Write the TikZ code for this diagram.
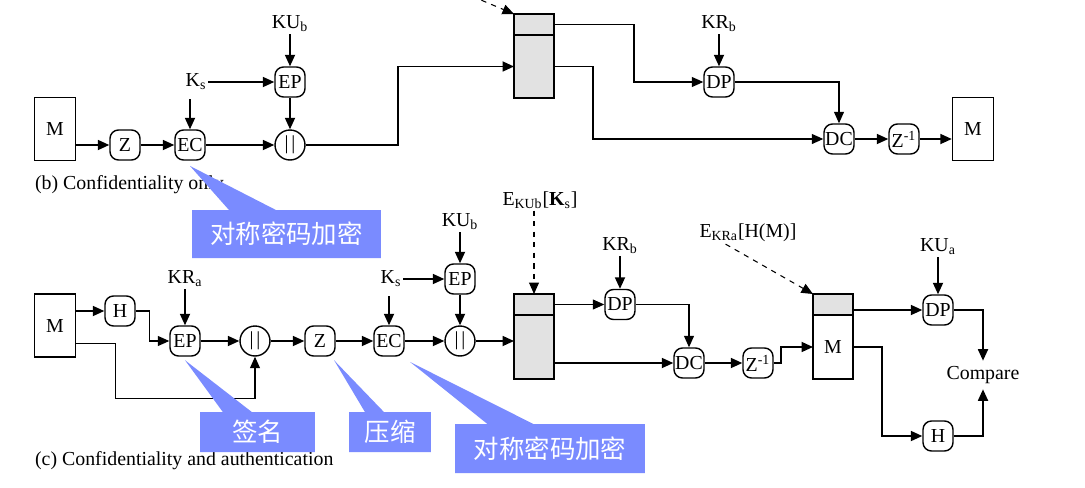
\documentclass[tikz,border=0pt]{standalone}
\usepackage{fontspec}
\setmainfont{Liberation Serif}
\newfontfamily\cjk{Noto Sans CJK SC}
\usetikzlibrary{positioning,arrows.meta,shapes.callouts}
\definecolor{callblue}{RGB}{122,139,255}
\definecolor{partgray}{RGB}{226,226,226}

\begin{document}
\begin{tikzpicture}[x=0.02cm, y=-0.02cm,
      font=\fontsize{11.3}{13}\selectfont,
      msg/.style={rectangle, draw, line width=0.8pt, minimum width=0.82cm,
                  minimum height=1.26cm, inner sep=0pt},
      op/.style={rectangle, draw, rounded corners=0.17cm, line width=0.8pt,
                 minimum size=0.6cm, inner sep=0pt},
      cat/.style={circle, draw, line width=0.8pt, minimum size=0.6cm, inner sep=0pt},
      part/.style={rectangle, draw, line width=0.8pt, fill=partgray,
                   minimum width=0.8cm, inner sep=0pt, outer sep=0pt},
      lbl/.style={inner sep=1pt},
      arr/.style={-{Triangle[length=0.23cm,width=0.2cm]}, line width=1pt},
      tarr/.style={arr, line width=0.6pt},
      dasharr/.style={arr, dashed, line width=0.6pt},
      note/.style={rectangle callout, fill=callblue, text=white,
                   font=\cjk\fontsize{14.5}{16}\selectfont, inner sep=0pt}]
    \useasboundingbox (0,0) rectangle (1085,487);

    % (b) confidentiality only
    \node[msg] (bM) at (55,129) {M};
    \node[op] (bZ) at (125,145) {Z};
    \node[op] (bEC) at (190,145) {EC};
    \node[cat] (bCat) at (290,145) {|\kern1.5pt|};
    \node[op] (bEP) at (290,82) {EP};
    \node[lbl, anchor=south] (bKUb) at (290,34) {KU\textsubscript{b}};
    \node[lbl] (bKs) at (196,82) {K\textsubscript{s}};
    \node[part, minimum height=0.42cm] (bSig) at (534,24.5) {};
    \node[part, minimum height=1.26cm, below=0pt of bSig] (bMsg) {};
    \coordinate (bTail) at (462,-8);
    \node[op] (bDP) at (719,82) {DP};
    \node[lbl, anchor=south] (bKRb) at (719,34) {KR\textsubscript{b}};
    \node[op] (bDC) at (839,139) {DC};
    \node[op] (bZi) at (904,139) {Z\textsuperscript{-1}};
    \node[msg] (bM2) at (973,129) {M};
    \node[lbl, anchor=west] (bCap) at (33,185) {(b) Confidentiality only};

    \draw[arr] (bM.east |- bZ) -- (bZ);
    \draw[arr] (bZ) -- (bEC);
    \draw[arr] (bEC) -- (bCat);
    \draw[arr] (bKUb) -- (bEP);
    \draw[arr] (bKs) -- (bEP);
    \draw[arr, shorten <=4pt] (bKs.south -| bEC) -- (bEC);
    \draw[arr] (bEP) -- (bCat);
    \draw[arr] (bCat.east) -- ++(92,0) |- (bMsg.west);
    \draw[dasharr] (bTail) -- (bSig.north west);
    \draw[tarr] (bSig.east) -- ++(80,0) |- (bDP);
    \draw[tarr] (bMsg.east) -- ++(39,0) |- (bDC);
    \draw[arr] (bKRb) -- (bDP);
    \draw[tarr] (bDP) -| (bDC);
    \draw[arr] (bDC) -- (bZi);
    \draw[arr] (bZi) -- (bM2.west |- bZi);

    % (c) confidentiality and authentication
    \node[msg] (cM) at (55,325.5) {M};
    \node[op] (cH) at (120,311) {H};
    \node[op] (cEP) at (185,341) {EP};
    \node[cat] (cCat) at (255,341) {|\kern1.5pt|};
    \node[op] (cZ) at (320,341) {Z};
    \node[op] (cEC) at (389,341) {EC};
    \node[cat] (cCat2) at (460,341) {|\kern1.5pt|};
    \node[op] (cEP2) at (460,279) {EP};
    \node[lbl, anchor=south] (cKUb) at (460,232) {KU\textsubscript{b}};
    \node[lbl] (cKs) at (391,279) {K\textsubscript{s}};
    \node[lbl, anchor=south] (cKRa) at (185,289) {KR\textsubscript{a}};
    \node[part, minimum height=0.42cm] (cSig) at (534,304.5) {};
    \node[part, minimum height=1.28cm, below=0pt of cSig] (cMsg) {};
    \node[lbl] (cEkub) at (540,200) {E\textsubscript{KUb}[\textbf{K}\textsubscript{s}]};
    \node[op] (cDP) at (620,304.5) {DP};
    \node[lbl, anchor=south] (cKRb) at (620,256) {KR\textsubscript{b}};
    \node[op] (cDC) at (689,363) {DC};
    \node[op] (cZi) at (758,363) {Z\textsuperscript{-1}};
    \node[part, minimum height=0.42cm] (dSig) at (833,304.5) {};
    \node[part, fill=white, minimum height=1.28cm, below=0pt of dSig] (dMsg) {M};
    \node[lbl] (dEkra) at (748,233) {E\textsubscript{KRa}[H(M)]};
    \node[op] (dDP) at (938,310) {DP};
    \node[lbl, anchor=south] (dKUa) at (938,257) {KU\textsubscript{a}};
    \node[inner sep=3pt] (cmp) at (983,375) {Compare};
    \node[op] (dH) at (938,436) {H};
    \node[lbl, anchor=west] (cCap) at (33,461) {(c) Confidentiality and authentication};

    \draw[arr] (cM.east |- cH) -- (cH);
    \draw[tarr] (cH.east) -- ++(14,0) |- (cEP);
    \draw[tarr] ([yshift=-10pt]cM.east) -| ++(39,55) -| (cCat.south);
    \draw[arr] (cKRa) -- (cEP);
    \draw[arr] (cEP) -- (cCat);
    \draw[arr] (cCat) -- (cZ);
    \draw[arr] (cZ) -- (cEC);
    \draw[arr, shorten <=4pt] (cKs.south -| cEC) -- (cEC);
    \draw[arr] (cKs) -- (cEP2);
    \draw[arr] (cKUb) -- (cEP2);
    \draw[arr] (cEP2) -- (cCat2);
    \draw[arr] (cEC) -- (cCat2);
    \draw[arr] (cCat2) -- (cCat2 -| cMsg.west);
    \draw[dasharr] (cEkub.south -| cSig.north) -- (cSig.north);
    \draw[tarr] (cSig) -- (cDP);
    \draw[arr] (cKRb) -- (cDP);
    \draw[tarr] (cDP) -| (cDC);
    \draw[arr] (cMsg.east |- cDC) -- (cDC);
    \draw[arr] (cDC) -- (cZi);
    \draw[arr] (cZi.east) -- ++(7,0) |- (dMsg);
    \draw[dasharr] ([xshift=16pt]dEkra.south west) -- (dSig.north west);
    \draw[arr] (dSig.east |- dDP) -- (dDP);
    \draw[arr] (dKUa) -- (dDP);
    \draw[arr] (dDP) -| (cmp);
    \draw[arr] (dMsg.east) -- ++(29,0) |- (dH);
    \draw[arr] (dH) -| (cmp);

    % callouts
    \node[note, minimum width=3.78cm, minimum height=0.96cm,
          callout absolute pointer={([yshift=-3pt]bEC.south)},
          callout pointer width=0.94cm] (bNote) at (286.5,234) {对称密码加密};
    \node[note, minimum width=2.3cm, minimum height=0.8cm,
          callout absolute pointer={([yshift=-2pt]cEP.south)},
          callout pointer width=0.58cm] (cNote1) at (257.5,432) {签名};
    \node[note, minimum width=1.64cm, minimum height=0.8cm,
          callout absolute pointer={([xshift=8pt,yshift=-2pt]cZ.south)},
          callout pointer width=0.38cm] (cNote2) at (390,432) {压缩};
    \node[note, minimum width=3.8cm, minimum height=0.98cm,
          callout absolute pointer={([xshift=12pt,yshift=-3pt]cEC.south)},
          callout pointer width=0.92cm] (cNote3) at (550,448.5) {对称密码加密};
  \end{tikzpicture}
\end{document}
